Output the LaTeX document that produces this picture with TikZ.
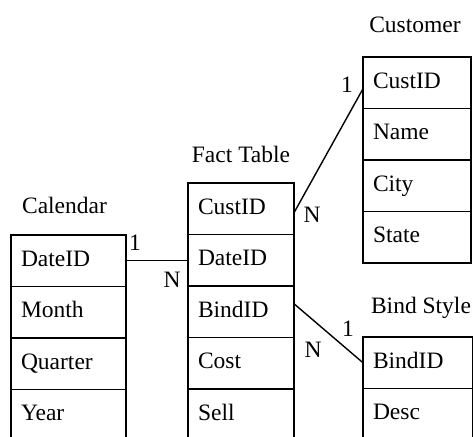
\documentclass[tikz,border=0pt]{standalone}
\usepackage{fontspec}
\setmainfont{Liberation Serif}
\usetikzlibrary{positioning}

\begin{document}
\begin{tikzpicture}[x=1pt, y=1pt, node distance=0pt, line width=1.4pt,
    font=\fontsize{23.5}{28}\selectfont,
    row/.style = {draw, outer sep=0pt, minimum height=51.5pt, text width=#1,
        inner xsep=10pt, text height=16pt, text depth=5pt, align=left, anchor=north west},
    title/.style = {inner sep=0pt},
    card/.style = {inner sep=0pt}]
        \useasboundingbox (0,0) rectangle (473,436);
        \clip (0,0) rectangle (473,436);
        % Calendar
        \node[row=95pt] (c1) at (11,201) {DateID};
        \node[row=95pt, below=of c1] (c2) {Month};
        \node[row=95pt, below=of c2] (c3) {Quarter};
        \node[row=95pt, below=of c3] (c4) {Year};
        \node[title] (cal) at ([xshift=-4pt, yshift=30pt]c1.north) {Calendar};
        % Fact Table
        \node[row=86pt] (f1) at (188,253) {CustID};
        \node[row=86pt, below=of f1] (f2) {DateID};
        \node[row=86pt, below=of f2] (f3) {BindID};
        \node[row=86pt, below=of f3] (f4) {Cost};
        \node[row=86pt, below=of f4] (f5) {Sell};
        \node[title] (fact) at ([yshift=29pt]f1.north) {Fact Table};
        % Customer
        \node[row=88pt] (u1) at (363,379) {CustID};
        \node[row=88pt, below=of u1] (u2) {Name};
        \node[row=88pt, below=of u2] (u3) {City};
        \node[row=88pt, below=of u3] (u4) {State};
        \node[title] (cust) at ([xshift=-2pt, yshift=32pt]u1.north) {Customer};
        % Bind Style
        \node[row=90pt] (b1) at (363,99) {BindID};
        \node[row=90pt, below=of b1] (b2) {Desc};
        \node[title] (bind) at ([xshift=3pt, yshift=29pt]b1.north) {Bind Style};
        % links
        \draw (c1.east) -- (c1.east -| f2.west);
        \draw ([yshift=-4pt]f1.east) -- ([yshift=-6pt]u1.west);
        \draw ([yshift=8pt]f3.east) -- (b1.west);
        \node[card] (k1) at ([shift={(9,-8)}]c1.north east) {1};
        \node[card] (k2) at ([shift={(-16,-20)}]f2.west) {N};
        \node[card] (k3) at ([shift={(18,-6)}]f1.east) {N};
        \node[card] (k4) at ([shift={(-16,-2)}]u1.west) {1};
        \node[card] (k5) at ([shift={(-50,13)}]b1.west) {N};
        \node[card] (k6) at ([shift={(-15,8)}]b1.north west) {1};
    \end{tikzpicture}
\end{document}
